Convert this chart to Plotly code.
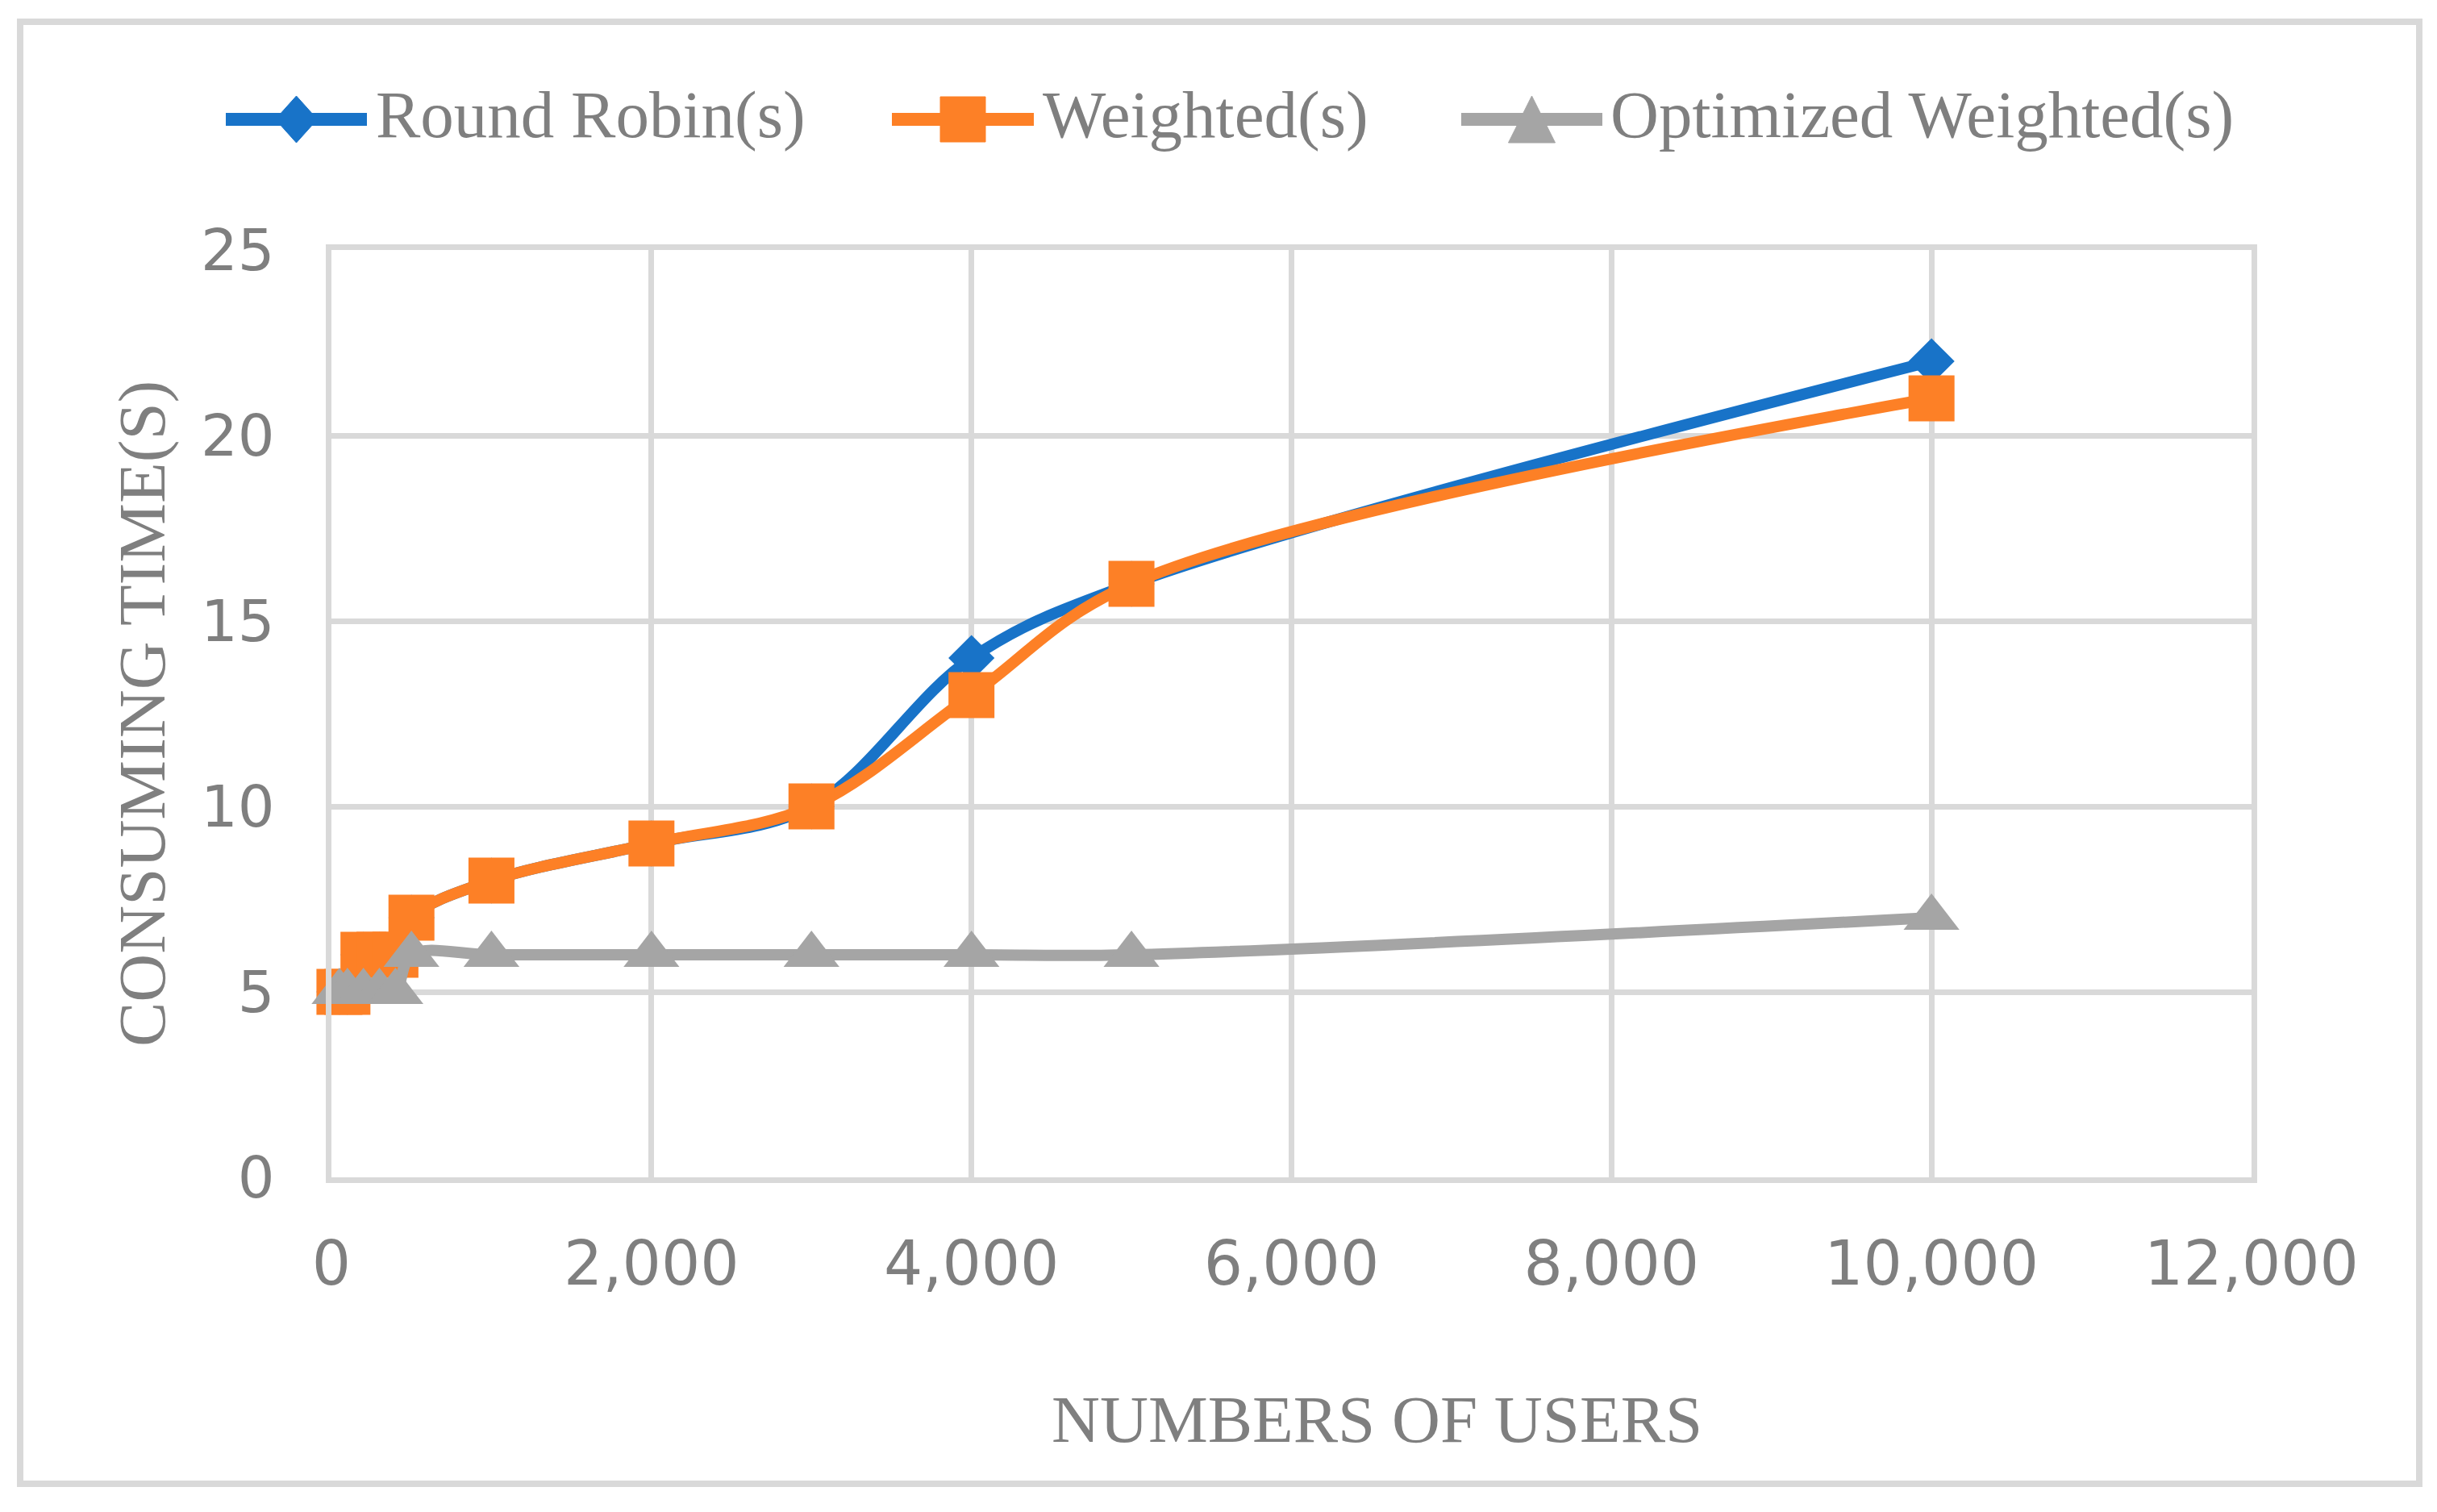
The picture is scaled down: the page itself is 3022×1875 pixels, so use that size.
import plotly.graph_objects as go

# ---------------- data ----------------
users = [50, 100, 200, 300, 400, 500, 1000, 2000, 3000, 4000, 5000, 10000]
round_robin = [5, 5, 6, 6, 6, 7, 8, 9, 10, 14, 16, 22]
weighted = [5, 5, 6, 6, 6, 7, 8, 9, 10, 13, 16, 21]
optimized = [5, 5, 5, 5, 5, 6, 6, 6, 6, 6, 6, 7]
series_names = ["Round Robin(s)", "Weighted(s)", "Optimized Weighted(s)"]
x_tick_vals = [0, 2000, 4000, 6000, 8000, 10000, 12000]
y_tick_vals = [0, 5, 10, 15, 20, 25]
x_title = "NUMBERS OF USERS"
y_title = "CONSUMING TIME(S)"

# ---------------- style ----------------
OFF = 8                      # default page (body) margin
W, H = 3022 - 2 * OFF, 1875 - 2 * OFF
ML, MT = 411 - OFF, 310 - OFF
PW, PH = 2381, 1150
MR, MB = W - ML - PW, H - MT - PH
BLUE, ORANGE, GRAY = "#1873C8", "#FD8026", "#A5A5A5"
GRID = "#D9D9D9"
TEXT = "#7F7F7F"
SERIF = "Liberation Serif"
SANS = "DejaVu Sans"


def px(sx):
    """screen pixel x -> paper x"""
    return (sx - OFF - ML) / PW


def py(sy):
    """screen pixel y -> paper y"""
    return (MT + PH - (sy - OFF)) / PH


fig = go.Figure()
series = [
    (round_robin, BLUE, "diamond", 44),
    (weighted, ORANGE, "square", 57),
    (optimized, GRAY, "triangle-up", 60),
]
for (vals, col, sym, size), name in zip(series, series_names):
    fig.add_trace(go.Scatter(
        x=users, y=vals, name=name, mode="lines+markers",
        line=dict(color=col, width=14, shape="spline", smoothing=1),
        marker=dict(symbol=sym, size=size, color=col, line=dict(width=0)),
        showlegend=False, cliponaxis=False,
    ))

shapes = []
annotations = []

# outer chart border
shapes.append(dict(type="rect", xref="paper", yref="paper",
                   x0=px(25), x1=px(3000), y0=py(1840), y1=py(27),
                   line=dict(color=GRID, width=8), layer="below"))

# custom legend (keys drawn as shapes, labels as annotations)
LEG_Y = 148
LEG_TEXT_Y = 142
legend_items = [
    (280, 455, 464, BLUE, "diamond"),
    (1106, 1282, 1291, ORANGE, "square"),
    (1812, 1987, 1995, GRAY, "triangle"),
]
for (lx0, lx1, tx, col, kind), name in zip(legend_items, series_names):
    shapes.append(dict(type="line", xref="paper", yref="paper",
                       x0=px(lx0), x1=px(lx1), y0=py(LEG_Y), y1=py(LEG_Y),
                       line=dict(color=col, width=16)))
    cx = (lx0 + lx1) / 2
    if kind == "diamond":
        hw, hh = 26, 29
        path = (f"M {px(cx-hw)},{py(LEG_Y)} L {px(cx)},{py(LEG_Y-hh)} "
                f"L {px(cx+hw)},{py(LEG_Y)} L {px(cx)},{py(LEG_Y+hh)} Z")
        shapes.append(dict(type="path", xref="paper", yref="paper", path=path,
                           fillcolor=col, line=dict(color=col, width=1)))
    elif kind == "square":
        hw = 28
        shapes.append(dict(type="rect", xref="paper", yref="paper",
                           x0=px(cx-hw), x1=px(cx+hw), y0=py(LEG_Y+hw), y1=py(LEG_Y-hw),
                           fillcolor=col, line=dict(color=col, width=1)))
    else:
        hw, hh = 29, 29
        path = (f"M {px(cx-hw)},{py(LEG_Y+hh)} L {px(cx)},{py(LEG_Y-hh)} "
                f"L {px(cx+hw)},{py(LEG_Y+hh)} Z")
        shapes.append(dict(type="path", xref="paper", yref="paper", path=path,
                           fillcolor=col, line=dict(color=col, width=1)))
    annotations.append(dict(xref="paper", yref="paper", x=px(tx), y=py(LEG_TEXT_Y),
                            xanchor="left", yanchor="middle", text=name, showarrow=False,
                            font=dict(family=SERIF, size=83, color=TEXT)))

# axis titles
annotations.append(dict(xref="paper", yref="paper", x=px(1707), y=py(1760),
                        xanchor="center", yanchor="middle", text=x_title, showarrow=False,
                        font=dict(family=SERIF, size=83, color=TEXT)))
annotations.append(dict(xref="paper", yref="paper", x=px(176), y=0.5,
                        xanchor="center", yanchor="middle", text=y_title, showarrow=False,
                        textangle=-90, font=dict(family=SERIF, size=83, color=TEXT)))

fig.update_layout(
    width=W, height=H,
    margin=dict(l=ML, r=MR, t=MT, b=MB, pad=0),
    paper_bgcolor="white", plot_bgcolor="white",
    shapes=shapes, annotations=annotations,
    showlegend=False,
)
fig.update_xaxes(
    range=[0, 12000], tickvals=x_tick_vals, tickformat=",d",
    showgrid=True, gridcolor=GRID, gridwidth=7,
    showline=True, mirror=True, linecolor=GRID, linewidth=7,
    zeroline=False, ticks="", ticklabelstandoff=35,
    tickfont=dict(family=SANS, size=76, color=TEXT),
)
fig.update_yaxes(
    range=[0, 25], tickvals=y_tick_vals,
    showgrid=True, gridcolor=GRID, gridwidth=7,
    showline=True, mirror=True, linecolor=GRID, linewidth=7,
    zeroline=False, ticks="", ticklabelstandoff=49,
    tickfont=dict(family=SANS, size=72, color=TEXT),
)

fig.write_html("out.html")
